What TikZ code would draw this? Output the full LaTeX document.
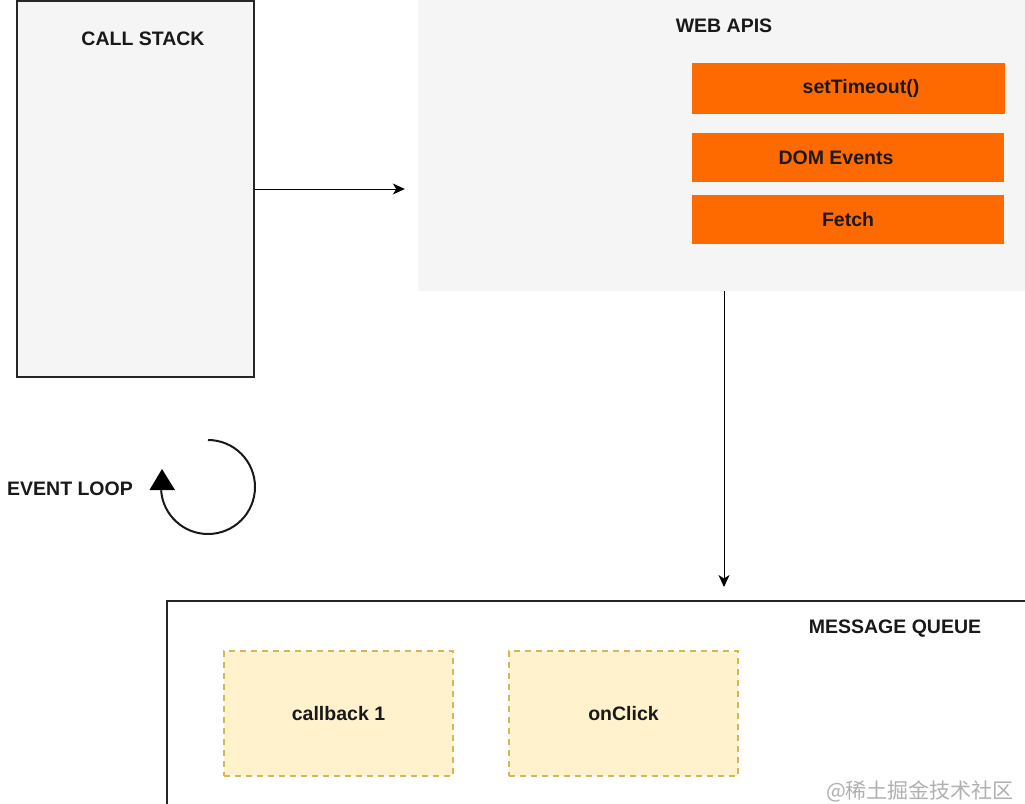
\documentclass[tikz,border=0pt]{standalone}
\usepackage{fontspec}
\setmainfont{Liberation Sans}
\newfontfamily\cjk{Noto Sans CJK SC}
\usetikzlibrary{arrows.meta}
\definecolor{panel}{HTML}{F5F5F5}
\definecolor{apiorange}{HTML}{FF6A00}
\definecolor{cbfill}{HTML}{FFF2CC}
\definecolor{cbline}{HTML}{D6B656}
\definecolor{wmgray}{HTML}{B0B0B0}
\begin{document}
\begin{tikzpicture}[x=1pt,y=-1pt,
  lbl/.style={font=\bfseries\fontsize{19.5}{22}\selectfont, text=black!90, inner sep=0pt},
  frame/.style={draw=black!85, line width=2pt, inner sep=0pt},
  apibox/.style={fill=apiorange, inner sep=0pt, minimum width=313pt, font=\bfseries\fontsize{19.5}{22}\selectfont, text=black!90},
  cbbox/.style={fill=cbfill, draw=cbline, line width=1.5pt, dash pattern=on 6pt off 5pt, inner sep=0pt, minimum width=229pt, minimum height=125pt, font=\bfseries\fontsize{19.5}{22}\selectfont, text=black!90},
  conn/.style={draw=black, line width=1pt, -{Stealth[length=12pt,width=11pt,inset=3.5pt]}}]
\useasboundingbox (0,0) rectangle (1025,803);
\clip (0,0) rectangle (1025,803);
\fill[white] (0,0) rectangle (1025,803);

% call stack
\node[frame, fill=panel, minimum width=237pt, minimum height=376pt] (cs) at (135.5,189) {};
\node[lbl] (csl) at (143,39) {CALL STACK};

% web apis
\node[fill=panel, inner sep=0pt, minimum width=612pt, minimum height=291pt] (wa) at (724,145.5) {};
\node[lbl] (wal) at (724,26) {WEB APIS};
\node[apibox, minimum height=51pt] (st) at (848,88.5) {\hspace*{26pt}setTimeout()};
\node[apibox, minimum height=49pt, minimum width=312pt] (dom) at (848,157.5) {\hspace*{-24pt}DOM Events};
\node[apibox, minimum height=49pt, minimum width=312pt] (fe) at (848,219.5) {Fetch};

% message queue
\node[frame, minimum width=863pt, minimum height=209pt] (mq) at (598.5,705.5) {};
\node[lbl] (mql) at (895,629) {MESSAGE QUEUE};
\node[cbbox] (cb1) at (338.5,713.5) {callback 1};
\node[cbbox] (oc) at (623.5,713.5) {onClick};

% connectors
\draw[conn, shorten >=13pt] (cs.east) -- (cs.east -| wa.west);
\coordinate (dtop) at (724,291);
\draw[conn, shorten >=13pt] (dtop) -- (dtop |- mq.north);

% event loop
\node[lbl] (ell) at (70,489) {EVENT LOOP};
\draw[line width=2pt, black!90] (208,440) arc[start angle=-90, end angle=176, radius=47];
\fill[black] (149.5,490) -- (175,490) -- (162,469) -- cycle;

% watermark
\node[font=\cjk\fontsize{21}{24}\selectfont, text=wmgray, inner sep=0pt] (wm) at (920,791) {@稀土掘金技术社区};
\end{tikzpicture}
\end{document}
